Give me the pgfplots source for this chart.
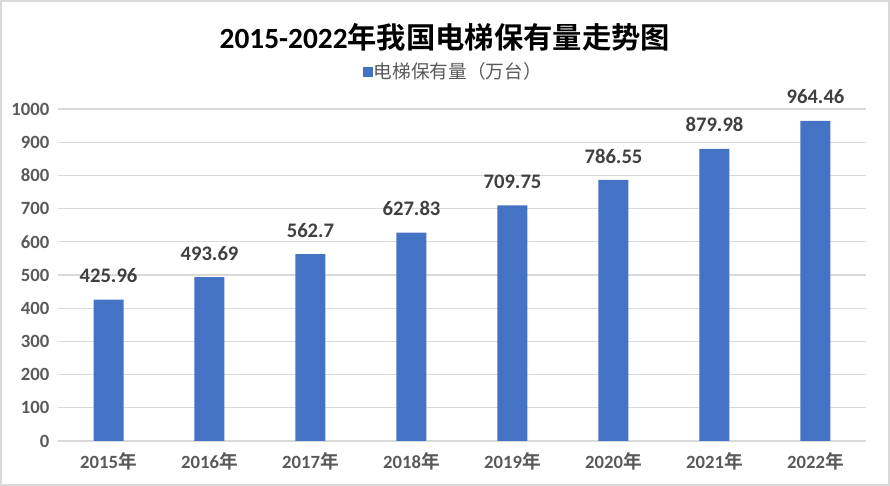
\documentclass[border=0pt]{standalone}
\usepackage{pgfplots}
\pgfplotsset{compat=1.18}
\usepackage{fontspec}
\setmainfont{Carlito}
\newfontfamily\cjk{Noto Sans CJK SC}[BoldFont={Noto Sans CJK SC Bold}]
\definecolor{barblue}{HTML}{4472C4}
\definecolor{gridgray}{HTML}{D9D9D9}
\definecolor{ticktext}{HTML}{595959}
\definecolor{labeltext}{HTML}{404040}
\begin{document}
\begin{tikzpicture}[x=0.75pt,y=0.75pt]
\useasboundingbox (0,0) rectangle (890,486);
\draw[gridgray, line width=1.5pt] (1,1) rectangle (889,485);
\node[font=\fontsize{22}{26}\selectfont\bfseries] at (445,449) {2015-2022{\cjk 年我国电梯保有量走势图}};
\begin{axis}[
    at={(43.5pt,33.75pt)}, anchor=south west,
    scale only axis,
    width=606pt, height=249pt,
    ybar, bar width=22.5pt,
    xmin=-0.5, xmax=7.5,
    ymin=0, ymax=1000,
    xtick=data,
    xticklabels={2015{\cjk 年},2016{\cjk 年},2017{\cjk 年},2018{\cjk 年},2019{\cjk 年},2020{\cjk 年},2021{\cjk 年},2022{\cjk 年}},
    ytick={0,100,...,1000},
    ymajorgrids, grid style={gridgray, line width=0.9pt},
    axis x line*=bottom, axis y line*=left,
    x axis line style={gridgray, line width=0.9pt, -},
    y axis line style={draw=none},
    major tick length=0pt,
    tick label style={font=\fontsize{14}{16}\selectfont\bfseries, text=ticktext},
    yticklabel style={xshift=-3pt},
    xticklabel style={yshift=-5pt},
    /pgf/number format/assume math mode=true,
    /pgf/number format/.cd, fixed, precision=2, 1000 sep={}, /pgfplots/.cd,
    nodes near coords,
    every node near coord/.append style={font=\fontsize{15.5}{18}\selectfont\bfseries, text=labeltext, yshift=9pt},
    clip=false,
    legend style={at={(0.5,1)}, xshift=-7pt, yshift=37pt, anchor=north, draw=none, fill=none,
        font=\fontsize{14}{16}\selectfont\cjk, text=ticktext, inner sep=0pt,
        /tikz/every even column/.append style={column sep=0pt},
        nodes={inner xsep=0.5pt}},
    legend image code/.code={\fill[barblue] (0pt,-4pt) rectangle (8pt,3.5pt);},
]
\addplot[fill=barblue, draw=none] coordinates {
    (0,425.96) (1,493.69) (2,562.7) (3,627.83)
    (4,709.75) (5,786.55) (6,879.98) (7,964.46)
};
\legend{电梯保有量（万台）}
\end{axis}
\end{tikzpicture}
\end{document}
